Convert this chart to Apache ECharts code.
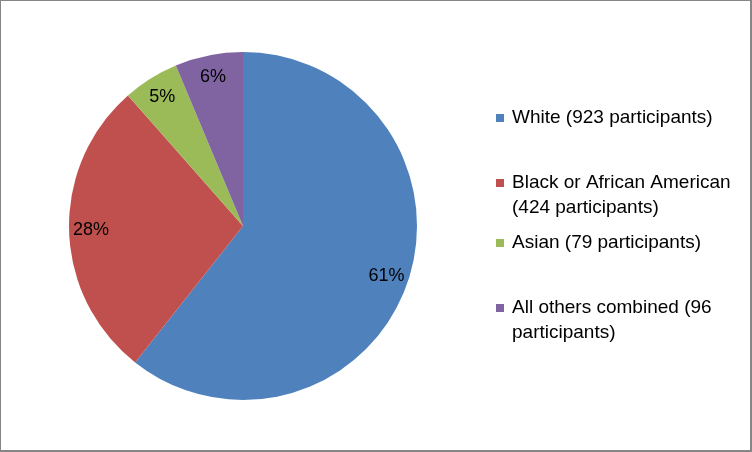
<!DOCTYPE html>
<html>
<head>
<meta charset="utf-8">
<script src="https://cdn.jsdelivr.net/npm/echarts@6/dist/echarts.min.js"></script>
<style>
  html, body { margin: 0; padding: 0; background: #fff; }
  #chart { position: absolute; left: 0; top: 0; width: 752px; height: 452px; }
  #frame { position: absolute; left: 0; top: 0; width: 752px; height: 452px; box-sizing: border-box;
           border-style: solid; border-color: #868686; border-width: 1px 2px 2px 1px; pointer-events: none; }
</style>
</head>
<body>
<div id="chart"></div>
<div id="frame"></div>
<script>
const categories = ['White', 'Black or African American', 'Asian', 'All others combined'];
const participants = [923, 424, 79, 96];
const legendLabels = [
  'White (923 participants)',
  'Black or African American\n(424 participants)',
  'Asian (79 participants)',
  'All others combined (96\nparticipants)'
];
const colors = ['#4F81BD', '#C0504D', '#9BBB59', '#8064A2'];

const pieData = categories.map((c, i) => ({ name: c, value: participants[i] }));
const FONT = 'Liberation Sans';
const legendTops = [105.5, 145.5, 230.5, 270.5];

const legends = categories.map((c, i) => {
  const twoLine = legendLabels[i].indexOf('\n') >= 0;
  return {
    data: [{ name: c, icon: 'rect' }],
    orient: 'vertical',
    left: 496,
    top: legendTops[i],
    padding: 0,
    itemWidth: 8,
    itemHeight: 8,
    selectedMode: false,
    // a leading blank line keeps the marker level with the first text line
    formatter: () => (twoLine ? '\n' : '') + legendLabels[i],
    textStyle: {
      fontFamily: FONT, fontSize: 19, color: '#000', lineHeight: 25,
      padding: [0, 0, 0, 3]
    }
  };
});

const chart = echarts.init(document.getElementById('chart'), null, { renderer: 'canvas' });
chart.setOption({
  animation: false,
  color: colors,
  legend: legends,
  series: [
    {
      type: 'pie',
      center: [243, 226],
      radius: [0, 174],
      startAngle: 90,
      clockwise: true,
      silent: true,
      itemStyle: { borderWidth: 0 },
      label: { show: false },
      labelLine: { show: false },
      data: pieData
    },
    {
      type: 'pie',
      center: [243, 226],
      radius: [124, 174],
      startAngle: 90,
      clockwise: true,
      silent: true,
      itemStyle: { color: 'rgba(0,0,0,0)', borderWidth: 0 },
      label: {
        show: true,
        position: 'inside',
        fontFamily: FONT,
        fontSize: 18,
        color: '#000',
        formatter: p => Math.round(p.percent) + '%'
      },
      labelLine: { show: false },
      data: pieData
    }
  ]
});
</script>
</body>
</html>
